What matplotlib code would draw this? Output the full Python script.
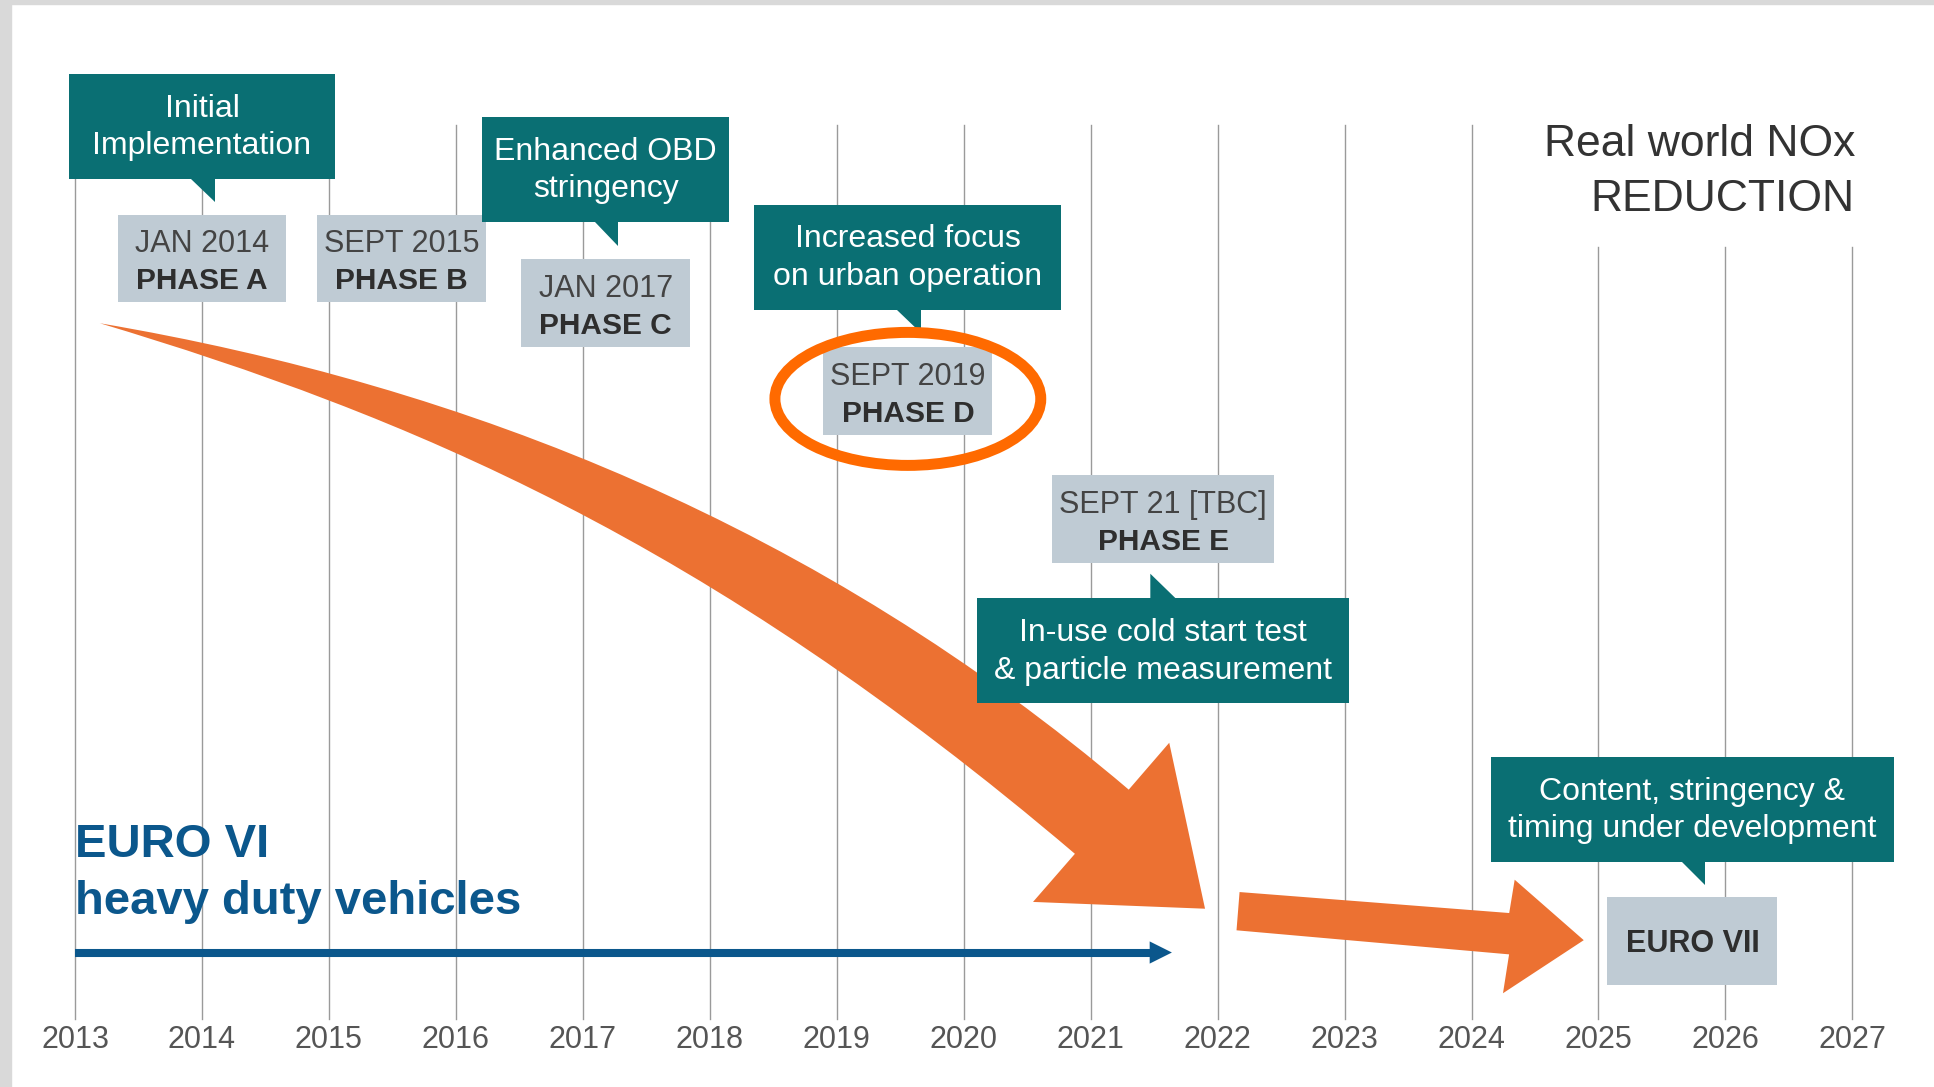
import matplotlib
matplotlib.use("Agg")
import matplotlib.pyplot as plt
from matplotlib.patches import Rectangle, Polygon, Ellipse, PathPatch
from matplotlib.path import Path

TEAL, SLATE, ORANGE, RING, BLUE = "#0a6f73", "#bfcbd4", "#ec7132", "#ff6a00", "#0b578c"
GRID, INK = "#9a9a9a", "#333333"
plt.rcParams.update({"font.family": ["Liberation Sans", "DejaVu Sans"]})

YEARS = list(range(2013, 2028))

# grey date boxes
PHASE_DATE = ["JAN 2014", "SEPT 2015", "JAN 2017", "SEPT 2019", "SEPT 21 [TBC]"]
PHASE_NAME = ["PHASE A", "PHASE B", "PHASE C", "PHASE D", "PHASE E"]
PHASE_X = [2014.0, 2015.57, 2017.18, 2019.56, 2021.57]
PHASE_W = [1.33, 1.33, 1.33, 1.33, 1.75]
PHASE_TOP = [174, 174, 210, 281.5, 385]

# teal call-outs
NOTES = ["Initial\nImplementation", "Enhanced OBD\nstringency",
         "Increased focus\non urban operation",
         "In-use cold start test\n& particle measurement",
         "Content, stringency &\ntiming under development"]
NOTE_X = [2014.0, 2017.18, 2019.56, 2021.57, 2025.74]
NOTE_W = [2.09, 1.95, 2.42, 2.93, 3.18]
NOTE_TOP = [60, 95, 166, 485, 613.5]
NOTE_UP = [False, False, False, True, False]   # pointer side

NEXT_STD, NEXT_X, NEXT_W, NEXT_TOP = "EURO VII", 2025.74, 1.34, 727

# EURO VI validity bar
EURO6_START, EURO6_END = 2013.0, 2021.64

fig = plt.figure(figsize=(19.34, 10.87), dpi=100)
ax = fig.add_axes([0, 0, 1, 1])
ax.set_xlim(2012.409, 2027.643); ax.set_ylim(881, 0); ax.axis("off")

# slide frame
fig.patches.append(Rectangle((0, 0), 11 / 1934, 1, transform=fig.transFigure, color="#d9d9d9", zorder=0))
fig.patches.append(Rectangle((0, 1 - 4 / 1087), 1, 4 / 1087, transform=fig.transFigure, color="#d9d9d9", zorder=0))

# year grid + labels
for y in YEARS:
    ax.plot([y, y], [101 if y < 2025 else 200, 826], color=GRID, lw=1.0, zorder=1)
    ax.text(y, 843, str(y), ha="center", va="center", fontsize=22, color="#555555")

# big curved NOx arrow: upper edge, head, lower edge back to the tail point
s = (2013.196, 262)
verts = [s, (2016.111, 313), (2018.870, 427.5), (2021.300, 640),
         (2021.619, 602), (2021.901, 736.5), (2020.546, 731), (2020.876, 692),
         (2017.962, 437), (2015.625, 337), s, s]
codes = [Path.MOVETO, Path.CURVE4, Path.CURVE4, Path.CURVE4,
         Path.LINETO, Path.LINETO, Path.LINETO, Path.LINETO,
         Path.CURVE4, Path.CURVE4, Path.CURVE4, Path.CLOSEPOLY]
ax.add_patch(PathPatch(Path(verts, codes), fc=ORANGE, ec="none", zorder=2))

# straight arrow towards EURO VII
ax.add_patch(Polygon([(2022.173, 723), (2024.297, 740), (2024.340, 713), (2024.884, 762),
                      (2024.248, 805), (2024.296, 773.5), (2022.149, 754)],
                     closed=True, fc=ORANGE, ec="none", zorder=2))

# EURO VI bar
ax.plot([EURO6_START, EURO6_END - 0.175], [772, 772], color=BLUE, lw=5.8, solid_capstyle="butt", zorder=2)
ax.add_patch(Polygon([(EURO6_END - 0.175, 763), (EURO6_END, 772), (EURO6_END - 0.175, 781)],
                     closed=True, fc=BLUE, ec="none", zorder=2))
ax.text(EURO6_START, 694.8, "EURO VI", fontsize=34, fontweight="bold", color=BLUE, va="baseline")
ax.text(EURO6_START, 740.5, "heavy duty vehicles", fontsize=34, fontweight="bold", color=BLUE, va="baseline")


def grey_box(cx, w, top, lines, h=71):
    ax.add_patch(Rectangle((cx - w / 2, top), w, h, fc=SLATE, ec="none", zorder=3))
    if len(lines) == 1:
        ax.text(cx, top + h / 2 + 2, lines[0], ha="center", va="center", fontsize=22,
                fontweight="bold", color="#2e2e2e", zorder=5)
        return
    ax.text(cx, top + 30.5, lines[0], ha="center", va="baseline", fontsize=22, color="#444444", zorder=5)
    ax.text(cx, top + 60.5, lines[1], ha="center", va="baseline", fontsize=21.5,
            fontweight="bold", color="#2e2e2e", zorder=5)


def note(cx, w, top, text, up, h=85):
    ax.add_patch(Rectangle((cx - w / 2, top), w, h, fc=TEAL, ec="none", zorder=3))
    if up:
        tri = [(cx - 0.10, top), (cx - 0.10, top - 20), (cx + 0.10, top)]
    else:
        tri = [(cx - 0.085, top + h), (cx + 0.10, top + h), (cx + 0.10, top + h + 19)]
    ax.add_patch(Polygon(tri, closed=True, fc=TEAL, ec="none", zorder=3))
    l1, l2 = text.split("\n")
    ax.text(cx, top + 34.5, l1, ha="center", va="baseline", fontsize=23, color="white", zorder=5)
    ax.text(cx, top + 65, l2, ha="center", va="baseline", fontsize=23, color="white", zorder=5)


for x, w, t, d, n in zip(PHASE_X, PHASE_W, PHASE_TOP, PHASE_DATE, PHASE_NAME):
    grey_box(x, w, t, [d, n])
grey_box(NEXT_X, NEXT_W, NEXT_TOP, [NEXT_STD], h=71.6)
for x, w, t, txt, up in zip(NOTE_X, NOTE_W, NOTE_TOP, NOTES, NOTE_UP):
    note(x, w, t, txt, up)

# highlight the current phase
ax.add_patch(Ellipse((PHASE_X[3], 323.3), 2.094, 107.8, fc="none", ec=RING, lw=7.9, zorder=4))

ax.text(2027.02, 126.5, "Real world NOx", ha="right", va="baseline", fontsize=32, color=INK)
ax.text(2027.02, 171, "REDUCTION", ha="right", va="baseline", fontsize=32, color=INK)

fig.savefig("out.png", dpi=100, facecolor="white")
